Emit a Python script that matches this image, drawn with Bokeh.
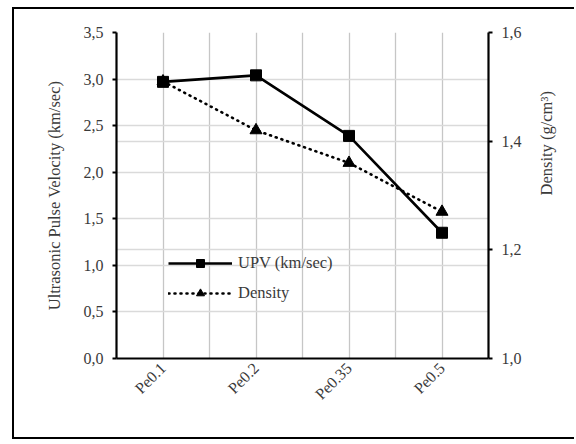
import math
import numpy as np
from bokeh.plotting import figure
from bokeh.models import (Range1d, LinearAxis, FixedTicker, CustomJSTickFormatter, Grid,
                          Legend, LegendItem, Label)
from bokeh.embed import file_html
from bokeh.resources import INLINE

# ---- data ----
mixtures = ["Pe0.1", "Pe0.2", "Pe0.35", "Pe0.5"]
upv = [2.97, 3.04, 2.39, 1.35]          # km/sec (left axis)
density = [1.51, 1.42, 1.36, 1.27]      # g/cm3 (right axis)
left_ticks = [0.0, 0.5, 1.0, 1.5, 2.0, 2.5, 3.0, 3.5]
right_ticks = [1.0, 1.2, 1.4, 1.6]

FONT = "'Liberation Serif'"
FS = "16.5px"
FS_TICK = "16px"
TXT = "#3a3a3a"

x = np.arange(len(mixtures)) + 0.5

p = figure(width=562, height=432, output_backend="svg", toolbar_location=None,
           x_range=Range1d(0, len(mixtures)), y_range=Range1d(0, 3.5),
           min_border_left=102, min_border_right=88, min_border_top=23, min_border_bottom=83)
p.styles = {"margin-left": "12px", "margin-top": "7px",
            "border-left": "2px solid black", "border-top": "2px solid black",
            "border-bottom": "2px solid black"}
p.outline_line_color = None
p.extra_y_ranges = {"dens": Range1d(1.0, 1.6)}

fmt = CustomJSTickFormatter(code="return tick.toFixed(1).replace('.', ',');")

# grids
p.xgrid.visible = False
p.ygrid.visible = False
p.add_layout(Grid(dimension=0, ticker=FixedTicker(ticks=list(np.arange(0, len(mixtures) + 0.01, 0.5))),
                  grid_line_color="#c6c6c6", grid_line_width=1.3))
p.add_layout(Grid(dimension=1, ticker=FixedTicker(ticks=left_ticks),
                  grid_line_color="#dadada", grid_line_width=1.3))
p.add_layout(Grid(dimension=1, y_range_name="dens", ticker=FixedTicker(ticks=[1.2, 1.4]),
                  grid_line_color="#dadada", grid_line_width=1.3))

# x axis
xa = p.xaxis[0]
xa.ticker = FixedTicker(ticks=list(x))
xa.major_label_overrides = {float(v): m for v, m in zip(x, mixtures)}
xa.major_label_orientation = math.pi / 4
xa.major_tick_out = 0
xa.major_tick_in = 0
xa.minor_tick_out = 0
xa.minor_tick_in = 0
xa.axis_line_width = 2.2
xa.axis_line_color = "black"
xa.major_label_standoff = 7

# left axis
ya = p.yaxis[0]
ya.ticker = FixedTicker(ticks=left_ticks)
ya.formatter = fmt
ya.axis_label = "Ultrasonic Pulse Velocity (km/sec)"
ya.axis_label_standoff = 17
ya.major_tick_out = 4
ya.major_tick_in = 0
ya.minor_tick_out = 0
ya.minor_tick_in = 0
ya.axis_line_width = 2.2
ya.major_tick_line_width = 2
ya.major_label_standoff = 9

# right axis
ra = LinearAxis(y_range_name="dens", ticker=FixedTicker(ticks=right_ticks), formatter=fmt,
                axis_label="Density (g/cm³)")
ra.axis_label_orientation = math.pi / 2
ra.axis_label_standoff = 22
ra.major_tick_out = 4
ra.major_tick_in = 0
ra.minor_tick_out = 0
ra.minor_tick_in = 0
ra.axis_line_width = 2.2
ra.major_tick_line_width = 2
ra.major_label_standoff = 9
p.add_layout(ra, "right")

for ax in [xa, ya, ra]:
    ax.major_label_text_font = FONT
    ax.major_label_text_font_size = FS_TICK
    ax.major_label_text_color = TXT
    ax.axis_label_text_font = FONT
    ax.axis_label_text_font_size = FS
    ax.axis_label_text_font_style = "normal"
    ax.axis_label_text_color = TXT

# x axis title
p.add_layout(Label(x=172, y=-63, x_units="screen", y_units="screen", text="Mixture ID",
                   text_font=FONT, text_font_size=FS, text_color=TXT,
                   text_align="center", text_baseline="middle"))

# series
l1 = p.line(x, upv, line_color="black", line_width=2.6)
m1 = p.scatter(x, upv, marker="square", size=11, fill_color="black", line_color="black")
l2 = p.line(x, density, y_range_name="dens", line_color="black", line_width=2.6,
            line_dash="1 5", line_cap="round")
m2 = p.scatter(x, density, y_range_name="dens", marker="triangle", size=12,
               fill_color="black", line_color="black")

legend = Legend(items=[LegendItem(label="UPV (km/sec)", renderers=[l1, m1]),
                       LegendItem(label="Density", renderers=[l2, m2])],
                location=(52, 55), padding=0, margin=0, spacing=10,
                glyph_width=64, glyph_height=20, label_standoff=6,
                background_fill_alpha=0, border_line_color=None,
                label_text_font=FONT, label_text_font_size=FS, label_text_color=TXT)
p.add_layout(legend, "center")

open("out.html", "w").write(file_html(p, INLINE))
